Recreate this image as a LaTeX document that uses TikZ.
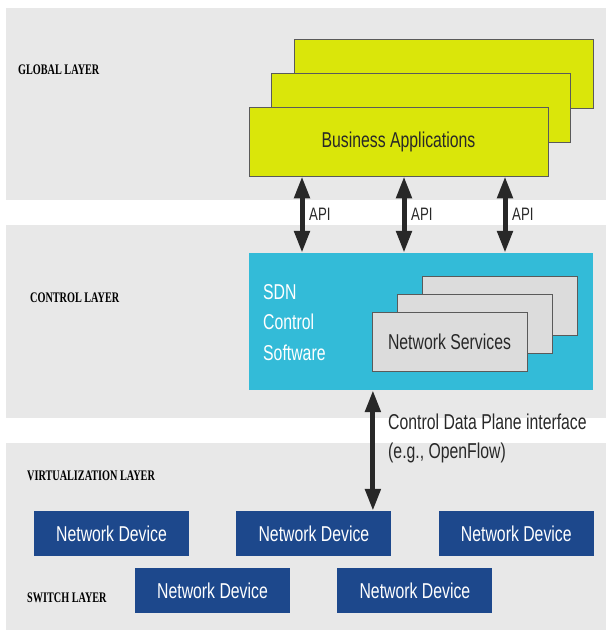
\documentclass[tikz,border=0pt]{standalone}
\usepackage{fontspec}
\setmainfont{Liberation Serif}
\newfontfamily\narrowsans{Liberation Sans}[FakeStretch=0.735]
\newfontfamily\narrowserif{Liberation Serif}[FakeStretch=0.7]
\usepackage{tikz}
\usetikzlibrary{arrows.meta, positioning}
\definecolor{layergray}{RGB}{232,232,232}
\definecolor{appgreen}{RGB}{218,230,10}
\definecolor{sdncyan}{RGB}{51,187,216}
\definecolor{servgray}{RGB}{220,220,220}
\definecolor{devblue}{RGB}{29,72,140}
\definecolor{boxline}{RGB}{90,90,90}
\definecolor{textgray}{RGB}{40,40,40}
\tikzset{
    layer/.style={fill=layergray},
    layerlabel/.style={anchor=west, inner sep=0pt, text=black, font=\narrowserif\bfseries\fontsize{14.6}{16}\selectfont},
    appbox/.style={rectangle, draw=boxline, line width=0.8pt, fill=appgreen, minimum width=299pt, minimum height=69pt, text=textgray, font=\narrowsans\fontsize{21.5}{24}\selectfont},
    sdnbox/.style={rectangle, fill=sdncyan, minimum width=344pt, minimum height=137pt},
    servbox/.style={rectangle, draw=boxline, line width=0.8pt, fill=servgray, minimum width=155pt, minimum height=59pt, text=textgray, font=\narrowsans\fontsize{21.5}{24}\selectfont},
    devbox/.style={rectangle, fill=devblue, minimum width=155pt, minimum height=45pt, text=white, font=\narrowsans\fontsize{21.5}{24}\selectfont},
    dblarrow/.style={line width=5pt, draw=textgray, {Triangle[length=22pt,width=15pt]}-{Triangle[length=22pt,width=15pt]}},
    apilabel/.style={anchor=west, inner sep=0pt, text=textgray, font=\narrowsans\fontsize{18}{20}\selectfont}
}

\begin{document}
\begin{tikzpicture}[x=1pt, y=-1pt]
    \useasboundingbox (0,0) rectangle (606,632);
    % layer bands
    \fill [layer] (6,8) rectangle (606,200);
    \fill [layer] (6,225) rectangle (606,418);
    \fill [layer] (6,443) rectangle (606,630);

    \node (global) [layerlabel] at (18,70) {GLOBAL LAYER};
    \node (control) [layerlabel] at (30,298) {CONTROL LAYER};
    \node (virt) [layerlabel] at (27,476) {VIRTUALIZATION LAYER};
    \node (switch) [layerlabel] at (27,598) {SWITCH LAYER};

    % application stack
    \node (appback) [appbox] at (443.5,73.5) {};
    \node (appmid) [appbox] at ([xshift=-22.5pt,yshift=-34pt]appback.center) {};
    \node (app) [appbox] at ([xshift=-22.5pt,yshift=-34pt]appmid.center) {Business Applications};

    % controller
    \node (sdn) [sdnbox] at (421,321.5) {};
    \node (sdntext) [anchor=north west, inner sep=0pt, align=left, text=white, font=\narrowsans\fontsize{21.5}{30.5}\selectfont] at (263,284) {SDN\\Control\\Software};
    \node (servback) [servbox] at (499.5,305.5) {};
    \node (servmid) [servbox] at ([xshift=-25pt,yshift=-18pt]servback.center) {};
    \node (serv) [servbox] at ([xshift=-25pt,yshift=-18pt]servmid.center) {Network Services};

    % devices
    \node (dev1) [devbox] at (111.5,533.5) {Network Device};
    \node (dev2) [devbox, right=47pt of dev1] {Network Device};
    \node (dev3) [devbox, right=47pt of dev2] {Network Device};
    \node (dev4) [devbox] at (212.5,590.5) {Network Device};
    \node (dev5) [devbox, right=47pt of dev4] {Network Device};

    % API arrows
    \foreach \dx in {-119,-17,84} {
        \draw [dblarrow] ([xshift=\dx pt]sdn.north |- app.south) -- ([xshift=\dx pt]sdn.north);
        \node [apilabel] at ([xshift=\dx pt + 7pt, yshift=38pt]sdn.north) {API};
    }

    % southbound interface
    \coordinate (cdp) at ([xshift=59pt]dev2.north);
    \draw [dblarrow] (cdp |- sdn.south) -- (cdp);
    \node (cdplabel) [anchor=north west, inner sep=0pt, align=left, text=textgray, font=\narrowsans\fontsize{21.5}{29}\selectfont] at (388,414) {Control Data Plane interface\\(e.g., OpenFlow)};
\end{tikzpicture}
\end{document}
